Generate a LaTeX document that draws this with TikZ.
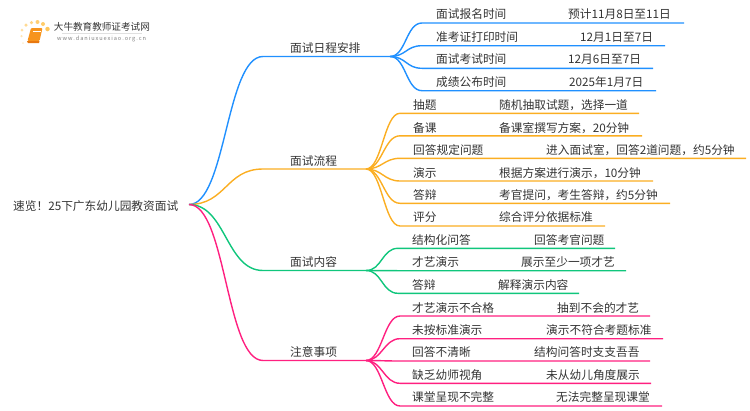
\documentclass[tikz,border=0pt]{standalone}
\usepackage{fontspec}
\setmainfont{Noto Sans CJK SC}
\definecolor{blueline}{HTML}{2090FF}
\definecolor{orangeline}{HTML}{FBAE22}
\definecolor{greenline}{HTML}{10C67C}
\definecolor{pinkline}{HTML}{FF2080}
\definecolor{inktext}{HTML}{333333}
\definecolor{sundot}{HTML}{FFC65A}
\definecolor{bookface}{HTML}{F7941D}
\definecolor{bookedge}{HTML}{E8780F}
\begin{document}
\begin{tikzpicture}[x=1pt,y=-1pt]
\tikzset{
  tinode/.style={anchor=west, inner sep=0pt, text=inktext, font=\fontsize{11.7}{14}\selectfont},
  bluebr/.style={draw=blueline, line width=1.4pt, line join=round},
  orangebr/.style={draw=orangeline, line width=1.4pt, line join=round},
  greenbr/.style={draw=greenline, line width=1.4pt, line join=round},
  pinkbr/.style={draw=pinkline, line width=1.4pt, line join=round},
  sun/.style={fill=sundot, draw=none, circle, inner sep=0pt},
  rootcurve/.style={to path={.. controls +(37,0) and +(-37,0) .. (\tikztotarget)}},
  leafcurve/.style={to path={.. controls +(16,0) and +(-16,0) .. (\tikztotarget)}},
}
\useasboundingbox (0,0) rectangle (750,410);
% logo
\node[sun, opacity=.3, minimum size=2pt] (S1) at (23,43) {};
\node[sun, opacity=.45, minimum size=2.5pt] (S2) at (21.5,36) {};
\node[sun, opacity=.55, minimum size=3pt] (S3) at (22,30) {};
\node[sun, opacity=.65, minimum size=3.5pt] (S4) at (26,25) {};
\node[sun, opacity=.75, minimum size=3.5pt] (S5) at (31.5,22.5) {};
\node[sun, opacity=.85, minimum size=4pt] (S6) at (37.5,22) {};
\node[sun, opacity=.9, minimum size=4pt] (S7) at (43,24) {};
\node[sun, minimum size=4.5pt] (S8) at (47.5,29) {};
\fill[bookface, rounded corners=1pt] (31,28) -- (42.5,28) -- (39.5,41) -- (27.5,41) -- cycle;
\fill[bookedge] (27,41) -- (39.5,41) -- (39,43) -- (28,43) -- cycle;
\draw[white, line width=.4pt] (33,31) -- (40.5,31);
\node[anchor=west, inner sep=0pt, text=inktext, font=\fontsize{9.6}{11}\selectfont] (LG1) at (53.7,27) {大牛教育教师证考试网};
\node[anchor=west, inner sep=0pt, text=black!50, font=\fontsize{5.6}{7}\selectfont] (LG2) at (57,39) {w\,w\,w\,.\,d\,a\,n\,i\,u\,x\,u\,e\,x\,i\,a\,o\,.\,o\,r\,g\,.\,c\,n};
\draw[black!12, line width=.5pt] (LG1.south west) ++(8,1.5) -- ++(80,0);
% root
\node[tinode] (root) at (13,206) {速览！25下广东幼儿园教资面试};
\coordinate (rootR) at (189,204.5);
% branches
\node[tinode] (B1) at (290,48.5) {面试日程安排};
\node[tinode] (B2) at (290,161) {面试流程};
\node[tinode] (B3) at (290,262.5) {面试内容};
\node[tinode] (B4) at (290,352.5) {注意事项};
\coordinate (B1a) at (263,56.5);
\coordinate (B1b) at (390,56.5);
\coordinate (B2a) at (263,169);
\coordinate (B2b) at (366,169);
\coordinate (B3a) at (263,270.5);
\coordinate (B3b) at (366,270.5);
\coordinate (B4a) at (263,360.5);
\coordinate (B4b) at (366,360.5);
\draw[bluebr] (rootR) to[rootcurve] (B1a) -- (B1b);
\draw[orangebr] (rootR) to[rootcurve] (B2a) -- (B2b);
\draw[greenbr] (rootR) to[rootcurve] (B3a) -- (B3b);
\draw[pinkbr] (rootR) to[rootcurve] (B4a) -- (B4b);
% blue leaves
\node[tinode] (A1) at (436,14.5) {面试报名时间};
\node[tinode] (A2) at (436,37) {准考证打印时间};
\node[tinode] (A3) at (436,59.5) {面试考试时间};
\node[tinode] (A4) at (436,82) {成绩公布时间};
\node[tinode] (A1v) at (568,14.5) {预计11月8日至11日};
\node[tinode] (A2v) at (580,37) {12月1日至7日};
\node[tinode] (A3v) at (568,59.5) {12月6日至7日};
\node[tinode] (A4v) at (569,82) {2025年1月7日};
\coordinate (A1a) at (422,23); \coordinate (A1b) at (684,23);
\coordinate (A2a) at (422,45.7); \coordinate (A2b) at (665,45.7);
\coordinate (A3a) at (422,68.3); \coordinate (A3b) at (653,68.3);
\coordinate (A4a) at (422,90.7); \coordinate (A4b) at (656,90.7);
\draw[bluebr] (B1b) to[leafcurve] (A1a) -- (A1b);
\draw[bluebr] (B1b) to[leafcurve] (A2a) -- (A2b);
\draw[bluebr] (B1b) to[leafcurve] (A3a) -- (A3b);
\draw[bluebr] (B1b) to[leafcurve] (A4a) -- (A4b);
% orange leaves
\node[tinode] (C1) at (413,105.5) {抽题};
\node[tinode] (C2) at (413,128) {备课};
\node[tinode] (C3) at (413,150.5) {回答规定问题};
\node[tinode] (C4) at (413,173) {演示};
\node[tinode] (C5) at (413,195.5) {答辩};
\node[tinode] (C6) at (413,217.5) {评分};
\node[tinode] (C1v) at (499,105.5) {随机抽取试题，选择一道};
\node[tinode] (C2v) at (499,128) {备课室撰写方案，20分钟};
\node[tinode] (C3v) at (546,150.5) {进入面试室，回答2道问题，约5分钟};
\node[tinode] (C4v) at (499,173) {根据方案进行演示，10分钟};
\node[tinode] (C5v) at (499,195.5) {考官提问，考生答辩，约5分钟};
\node[tinode] (C6v) at (499,217.5) {综合评分依据标准};
\coordinate (C1a) at (400,113.3); \coordinate (C1b) at (639,113.3);
\coordinate (C2a) at (400,135.8); \coordinate (C2b) at (642,135.8);
\coordinate (C3a) at (400,158.3); \coordinate (C3b) at (746,158.3);
\coordinate (C4a) at (400,181); \coordinate (C4b) at (653,181);
\coordinate (C5a) at (400,203.3); \coordinate (C5b) at (670,203.3);
\coordinate (C6a) at (400,226); \coordinate (C6b) at (605,226);
\draw[orangebr] (B2b) to[leafcurve] (C1a) -- (C1b);
\draw[orangebr] (B2b) to[leafcurve] (C2a) -- (C2b);
\draw[orangebr] (B2b) to[leafcurve] (C3a) -- (C3b);
\draw[orangebr] (B2b) to[leafcurve] (C4a) -- (C4b);
\draw[orangebr] (B2b) to[leafcurve] (C5a) -- (C5b);
\draw[orangebr] (B2b) to[leafcurve] (C6a) -- (C6b);
% green leaves
\node[tinode] (D1) at (412,240) {结构化问答};
\node[tinode] (D2) at (412,262.5) {才艺演示};
\node[tinode] (D3) at (412,285.5) {答辩};
\node[tinode] (D1v) at (534,240) {回答考官问题};
\node[tinode] (D2v) at (521,262.5) {展示至少一项才艺};
\node[tinode] (D3v) at (498,285.5) {解释演示内容};
\coordinate (D1a) at (398,248.3); \coordinate (D1b) at (615,248.3);
\coordinate (D2a) at (398,270.7); \coordinate (D2b) at (626,270.7);
\coordinate (D3a) at (398,293.3); \coordinate (D3b) at (579,293.3);
\draw[greenbr] (B3b) to[leafcurve] (D1a) -- (D1b);
\draw[greenbr] (B3b) to[leafcurve] (D2a) -- (D2b);
\draw[greenbr] (B3b) to[leafcurve] (D3a) -- (D3b);
% pink leaves
\node[tinode] (E1) at (412,308) {才艺演示不合格};
\node[tinode] (E2) at (412,330.5) {未按标准演示};
\node[tinode] (E3) at (412,352.5) {回答不清晰};
\node[tinode] (E4) at (412,375) {缺乏幼师视角};
\node[tinode] (E5) at (412,397.5) {课堂呈现不完整};
\node[tinode] (E1v) at (557,308) {抽到不会的才艺};
\node[tinode] (E2v) at (546,330.5) {演示不符合考题标准};
\node[tinode] (E3v) at (534,352.5) {结构问答时支支吾吾};
\node[tinode] (E4v) at (546,375) {未从幼儿角度展示};
\node[tinode] (E5v) at (556,397.5) {无法完整呈现课堂};
\coordinate (E1a) at (400,316); \coordinate (E1b) at (650,316);
\coordinate (E2a) at (400,338.7); \coordinate (E2b) at (663,338.7);
\coordinate (E3a) at (400,361); \coordinate (E3b) at (650,361);
\coordinate (E4a) at (400,383.3); \coordinate (E4b) at (651,383.3);
\coordinate (E5a) at (400,406); \coordinate (E5b) at (662,406);
\draw[pinkbr] (B4b) to[leafcurve] (E1a) -- (E1b);
\draw[pinkbr] (B4b) to[leafcurve] (E2a) -- (E2b);
\draw[pinkbr] (B4b) to[leafcurve] (E3a) -- (E3b);
\draw[pinkbr] (B4b) to[leafcurve] (E4a) -- (E4b);
\draw[pinkbr] (B4b) to[leafcurve] (E5a) -- (E5b);
\end{tikzpicture}
\end{document}
